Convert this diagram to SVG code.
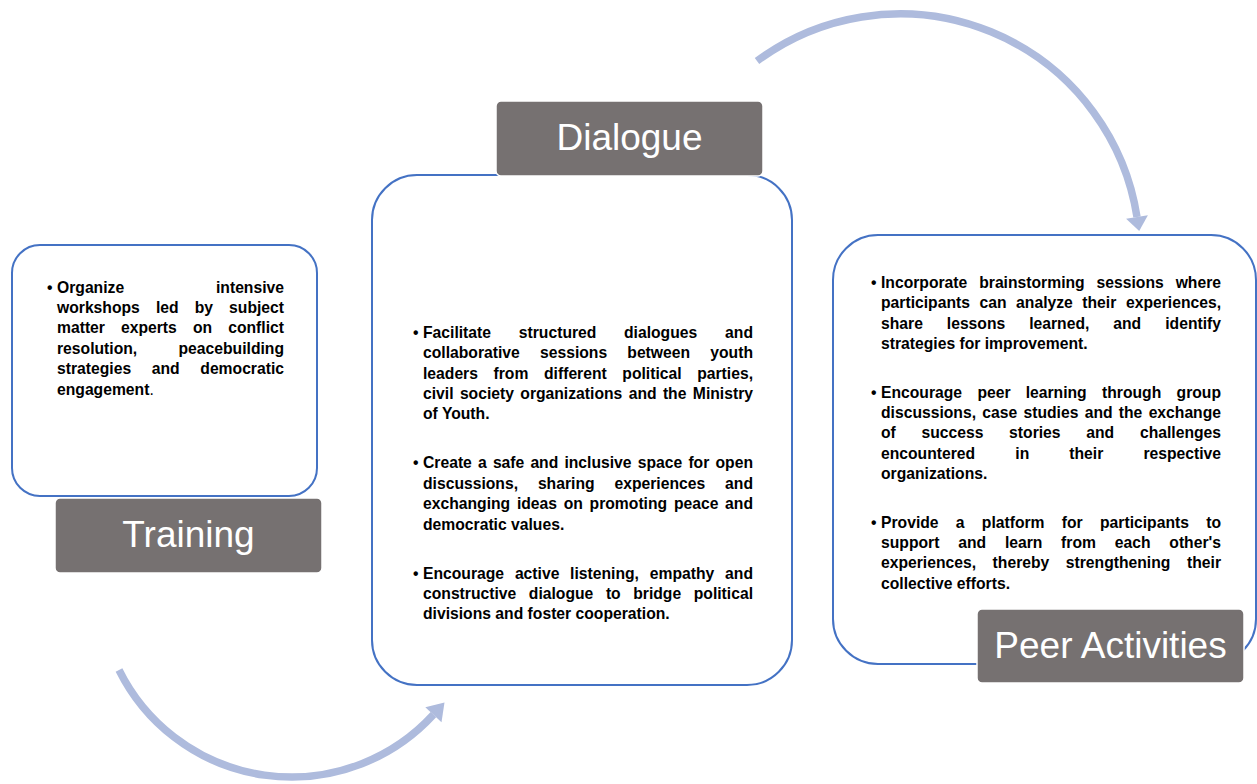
<svg xmlns="http://www.w3.org/2000/svg" width="1257" height="784" viewBox="0 0 1257 784">
<style>
.box{fill:#fff;stroke:#4472C4;stroke-width:2}
.lbl{fill:#767171;stroke:#fff;stroke-width:1.5}
.lt{font-family:"Liberation Sans",Arial,sans-serif;font-size:37px;fill:#fff;text-anchor:middle}
.b{font-family:"Liberation Sans",Arial,sans-serif;font-size:15.7px;font-weight:bold;fill:#000}
.e{text-anchor:end}
.arc{fill:none;stroke:#AEBBDD;stroke-width:7.5}
.ah{fill:#AEBBDD}
</style>
<rect width="1257" height="784" fill="#fff"/>
<g id="connectors">
<path class="arc" d="M119 670 A192.5 192.5 0 0 0 433.4 714.6"/>
<polygon class="ah" points="444.5,702.5 441.5,722.2 425.3,707.2"/>
<path class="arc" d="M757 61 A240 240 0 0 1 1137 217"/>
<polygon class="ah" points="1139.2,231 1147.9,215.3 1126.1,218.7"/>
</g>
<g id="training">
<rect class="box" x="12" y="245" width="305" height="251" rx="28"/>
<rect class="lbl" x="55" y="498" width="267" height="75" rx="5"/>
<text class="lt" x="188.5" y="547">Training</text>
<text class="b" x="47" y="292.6">•</text>
<text class="b" y="292.6"><tspan x="57">Organize</tspan></text><text class="b e" x="284" y="292.6">intensive</text>
<text class="b" y="313"><tspan x="57">workshops</tspan><tspan x="155.9">led</tspan><tspan x="194.7">by</tspan></text><text class="b e" x="284" y="313">subject</text>
<text class="b" y="333.4"><tspan x="57">matter</tspan><tspan x="121">experts</tspan><tspan x="192.9">on</tspan></text><text class="b e" x="284" y="333.4">conflict</text>
<text class="b" y="353.8"><tspan x="57">resolution,</tspan></text><text class="b e" x="284" y="353.8">peacebuilding</text>
<text class="b" y="374.2"><tspan x="57">strategies</tspan><tspan x="151.8">and</tspan></text><text class="b e" x="284" y="374.2">democratic</text>
<text class="b" x="57" y="394.6">engagement<tspan font-weight="normal">.</tspan></text>
</g>
<g id="dialogue">
<rect class="box" x="372" y="175" width="420" height="510" rx="45"/>
<rect class="lbl" x="496" y="101" width="267" height="75" rx="5"/>
<text class="lt" x="629.5" y="150">Dialogue</text>
<text class="b" x="413" y="337.7">•</text>
<text class="b" y="337.7"><tspan x="423">Facilitate</tspan><tspan x="518.8">structured</tspan><tspan x="624">dialogues</tspan></text><text class="b e" x="753" y="337.7">and</text>
<text class="b" y="358.1"><tspan x="423">collaborative</tspan><tspan x="540">sessions</tspan><tspan x="627.3">between</tspan></text><text class="b e" x="753" y="358.1">youth</text>
<text class="b" y="378.5"><tspan x="423">leaders</tspan><tspan x="493.5">from</tspan><tspan x="544">different</tspan><tspan x="622.3">political</tspan></text><text class="b e" x="753" y="378.5">parties,</text>
<text class="b" y="398.9"><tspan x="423">civil</tspan><tspan x="459.9">society</tspan><tspan x="520.3">organizations</tspan><tspan x="628.7">and</tspan><tspan x="662.9">the</tspan></text><text class="b e" x="753" y="398.9">Ministry</text>
<text class="b" x="423" y="419.3">of Youth.</text>
<text class="b" x="413" y="468.3">•</text>
<text class="b" y="468.3"><tspan x="423">Create</tspan><tspan x="478">a</tspan><tspan x="492.9">safe</tspan><tspan x="530.4">and</tspan><tspan x="564.4">inclusive</tspan><tspan x="637.8">space</tspan><tspan x="688.4">for</tspan></text><text class="b e" x="753" y="468.3">open</text>
<text class="b" y="488.7"><tspan x="423">discussions,</tspan><tspan x="537.9">sharing</tspan><tspan x="614.5">experiences</tspan></text><text class="b e" x="753" y="488.7">and</text>
<text class="b" y="509.1"><tspan x="423">exchanging</tspan><tspan x="516.9">ideas</tspan><tspan x="563.7">on</tspan><tspan x="589.6">promoting</tspan><tspan x="673.9">peace</tspan></text><text class="b e" x="753" y="509.1">and</text>
<text class="b" x="423" y="529.5">democratic values.</text>
<text class="b" x="413" y="578.5">•</text>
<text class="b" y="578.5"><tspan x="423">Encourage</tspan><tspan x="514.9">active</tspan><tspan x="570.1">listening,</tspan><tspan x="649.8">empathy</tspan></text><text class="b e" x="753" y="578.5">and</text>
<text class="b" y="598.9"><tspan x="423">constructive</tspan><tspan x="528.8">dialogue</tspan><tspan x="605.9">to</tspan><tspan x="633.2">bridge</tspan></text><text class="b e" x="753" y="598.9">political</text>
<text class="b" x="423" y="619.3">divisions and foster cooperation.</text>
</g>
<g id="peer-activities">
<rect class="box" x="833" y="235" width="423" height="429" rx="45"/>
<rect class="lbl" x="977" y="609" width="267" height="74" rx="5"/>
<text class="lt" x="1110.5" y="658">Peer Activities</text>
<text class="b" x="871" y="287.8">•</text>
<text class="b" y="287.8"><tspan x="881">Incorporate</tspan><tspan x="979.2">brainstorming</tspan><tspan x="1096.6">sessions</tspan></text><text class="b e" x="1221" y="287.8">where</text>
<text class="b" y="308.2"><tspan x="881">participants</tspan><tspan x="979.5">can</tspan><tspan x="1016.1">analyze</tspan><tspan x="1082.3">their</tspan></text><text class="b e" x="1221" y="308.2">experiences,</text>
<text class="b" y="328.6"><tspan x="881">share</tspan><tspan x="946.8">lessons</tspan><tspan x="1029.2">learned,</tspan><tspan x="1113.3">and</tspan></text><text class="b e" x="1221" y="328.6">identify</text>
<text class="b" x="881" y="349">strategies for improvement.</text>
<text class="b" x="871" y="397.5">•</text>
<text class="b" y="397.5"><tspan x="881">Encourage</tspan><tspan x="977.4">peer</tspan><tspan x="1025.7">learning</tspan><tspan x="1102">through</tspan></text><text class="b e" x="1221" y="397.5">group</text>
<text class="b" y="417.9"><tspan x="881">discussions,</tspan><tspan x="982.3">case</tspan><tspan x="1023.5">studies</tspan><tspan x="1084.7">and</tspan><tspan x="1118.8">the</tspan></text><text class="b e" x="1221" y="417.9">exchange</text>
<text class="b" y="438.3"><tspan x="881">of</tspan><tspan x="921.5">success</tspan><tspan x="1009.1">stories</tspan><tspan x="1086.3">and</tspan></text><text class="b e" x="1221" y="438.3">challenges</text>
<text class="b" y="458.7"><tspan x="881">encountered</tspan><tspan x="1015.3">in</tspan><tspan x="1069.3">their</tspan></text><text class="b e" x="1221" y="458.7">respective</text>
<text class="b" x="881" y="479.1">organizations.</text>
<text class="b" x="871" y="527.6">•</text>
<text class="b" y="527.6"><tspan x="881">Provide</tspan><tspan x="955.8">a</tspan><tspan x="981.8">platform</tspan><tspan x="1061.8">for</tspan><tspan x="1100">participants</tspan></text><text class="b e" x="1221" y="527.6">to</text>
<text class="b" y="548"><tspan x="881">support</tspan><tspan x="958.2">and</tspan><tspan x="1004.9">learn</tspan><tspan x="1061.1">from</tspan><tspan x="1114.8">each</tspan></text><text class="b e" x="1221" y="548">other's</text>
<text class="b" y="568.4"><tspan x="881">experiences,</tspan><tspan x="992.6">thereby</tspan><tspan x="1065.8">strengthening</tspan></text><text class="b e" x="1221" y="568.4">their</text>
<text class="b" x="881" y="588.8">collective efforts.</text>
</g>
</svg>
